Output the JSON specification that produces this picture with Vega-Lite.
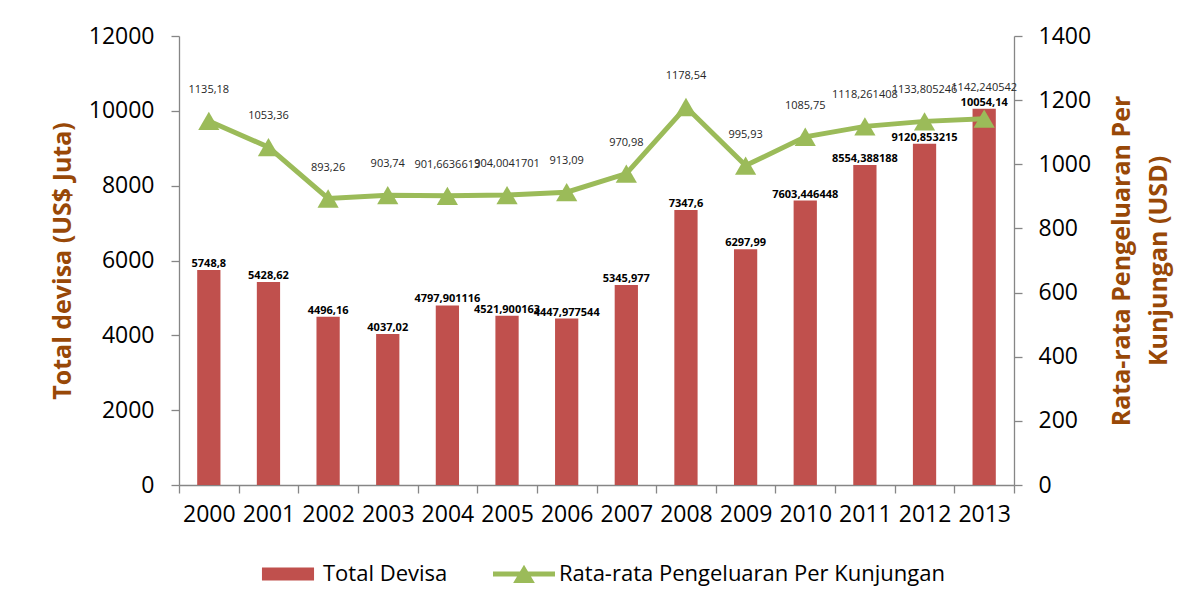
{
  "$schema": "https://vega.github.io/schema/vega-lite/v6.json",
  "width": 835,
  "height": 449,
  "autosize": {"type": "none"},
  "padding": {"left": 179, "top": 36, "right": 187, "bottom": 125},
  "background": "white",
  "config": {
    "view": {"stroke": null},
    "font": "Open Sans",
    "locale": {"number": {"decimal": ",", "thousands": ".", "grouping": [3], "currency": ["", ""]}},
    "axis": {
      "domainColor": "#868686",
      "tickColor": "#868686",
      "labelColor": "#000000",
      "labelFont": "Open Sans",
      "labelFontSize": 23,
      "grid": false,
      "tickSize": 8,
      "domainWidth": 1.3,
      "tickWidth": 1.3,
      "titleFont": "Open Sans",
      "titleFontWeight": "bold",
      "titleColor": "#984807",
      "titleFontSize": 25
    }
  },
  "data": {
    "values": [
      {"year": "2000", "devisa": 5748.8, "rata": 1135.18},
      {"year": "2001", "devisa": 5428.62, "rata": 1053.36},
      {"year": "2002", "devisa": 4496.16, "rata": 893.26},
      {"year": "2003", "devisa": 4037.02, "rata": 903.74},
      {"year": "2004", "devisa": 4797.901116, "rata": 901.6636613},
      {"year": "2005", "devisa": 4521.900163, "rata": 904.0041701},
      {"year": "2006", "devisa": 4447.977544, "rata": 913.09},
      {"year": "2007", "devisa": 5345.977, "rata": 970.98},
      {"year": "2008", "devisa": 7347.6, "rata": 1178.54},
      {"year": "2009", "devisa": 6297.99, "rata": 995.93},
      {"year": "2010", "devisa": 7603.446448, "rata": 1085.75},
      {"year": "2011", "devisa": 8554.388188, "rata": 1118.261408},
      {"year": "2012", "devisa": 9120.853215, "rata": 1133.805246},
      {"year": "2013", "devisa": 10054.14, "rata": 1142.240542}
    ]
  },
  "encoding": {
    "x": {
      "field": "year",
      "type": "ordinal",
      "scale": {"paddingInner": 0, "paddingOuter": 0},
      "axis": {"title": null, "labelAngle": 0, "tickBand": "extent", "labelPadding": 10}
    }
  },
  "layer": [
    {
      "encoding": {
        "y": {
          "field": "devisa",
          "type": "quantitative",
          "scale": {"domain": [0, 12000]},
          "axis": {
            "title": "Total devisa (US$ Juta)",
            "values": [0, 2000, 4000, 6000, 8000, 10000, 12000],
            "format": "d",
            "labelPadding": 17,
            "titlePadding": 13
          }
        }
      },
      "layer": [
        {
          "mark": {"type": "bar", "width": {"band": 0.39}},
          "encoding": {
            "color": {
              "datum": "Total Devisa",
              "scale": {
                "domain": ["Total Devisa", "Rata-rata Pengeluaran Per Kunjungan"],
                "range": ["#C0504D", "#9BBB59"]
              },
              "legend": {
                "orient": "none",
                "legendX": 78,
                "legendY": 507,
                "direction": "horizontal",
                "title": null,
                "symbolSize": 3844,
                "labelFontSize": 22,
                "labelFont": "Open Sans",
                "labelColor": "#000000",
                "labelLimit": 0,
                "labelOffset": 4,
                "columnPadding": 45,
                "encode": {
                  "symbols": {
                    "update": {
                      "shape": {"signal": "datum.value === 'Total Devisa' ? 'M-0.84,-0.21H0.84V0.21H-0.84Z' : 'M-1,-0.08H1V0.08H-1Z M-0.35,0.29L0,-0.3L0.35,0.29Z'"},
                      "fill": {"signal": "datum.value === 'Total Devisa' ? '#C0504D' : '#9BBB59'"},
                      "stroke": {"value": "transparent"},
                      "strokeWidth": {"value": 0},
                      "opacity": {"value": 1},
                      "fillOpacity": {"value": 1}
                    }
                  }
                }
              }
            }
          }
        },
        {
          "mark": {"type": "text", "fontWeight": "bold", "fontSize": 11, "dy": -3, "baseline": "alphabetic", "color": "#000000"},
          "encoding": {"text": {"field": "devisa", "type": "quantitative", "format": ".10~r"}}
        }
      ]
    },
    {
      "encoding": {
        "y": {
          "field": "rata",
          "type": "quantitative",
          "scale": {"domain": [0, 1400]},
          "axis": {
            "orient": "right",
            "title": ["Rata-rata Pengeluaran Per", "Kunjungan (USD)"],
            "titleAngle": 270,
            "titleLineHeight": 37,
            "values": [0, 200, 400, 600, 800, 1000, 1200, 1400],
            "format": "d",
            "labelPadding": 16,
            "titlePadding": 7
          }
        }
      },
      "layer": [
        {
          "mark": {"type": "line", "strokeWidth": 5},
          "encoding": {"color": {"datum": "Rata-rata Pengeluaran Per Kunjungan"}}
        },
        {
          "mark": {"type": "point", "shape": "triangle-up", "filled": true, "size": 450, "color": "#9BBB59", "opacity": 1}
        },
        {
          "mark": {"type": "text", "fontSize": 11, "dy": -28, "baseline": "alphabetic", "color": "#262626"},
          "encoding": {"text": {"field": "rata", "type": "quantitative", "format": ".10~r"}}
        }
      ]
    }
  ],
  "resolve": {"scale": {"y": "independent"}}
}
